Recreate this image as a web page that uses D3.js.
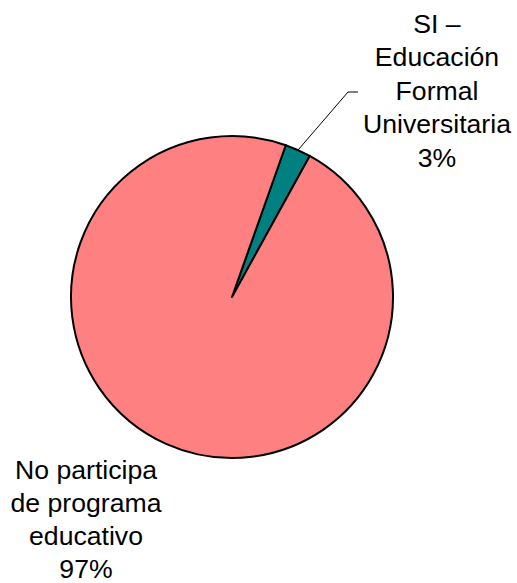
<!DOCTYPE html>
<html><head><meta charset="utf-8">
<script src="https://cdn.jsdelivr.net/npm/d3@7"></script>
<style>body{margin:0;background:#fff}</style>
</head><body>
<svg id="c" width="517" height="583"></svg>
<script>
const categories = ["SI – Educación Formal Universitaria", "No participa de programa educativo"];
const labelLines = [["SI –","Educación","Formal","Universitaria"],["No participa","de programa","educativo"]];
const values = [2.6, 97.4];
const colors = ["#008080", "#FF8080"];

const svg = d3.select("#c");
const cx = 232, cy = 297, R = 161;
const total = d3.sum(values);
const pie = d3.pie().sort(null).value(d => d)
  .startAngle(19.5 * Math.PI / 180).endAngle(19.5 * Math.PI / 180 + 2 * Math.PI);
const arcs = pie(values);
const arc = d3.arc().innerRadius(0).outerRadius(R);
const g = svg.append("g").attr("transform", `translate(${cx},${cy})`);
g.selectAll("path").data(arcs).join("path")
  .attr("d", arc).attr("fill", (d, i) => colors[i])
  .attr("stroke", "#000").attr("stroke-width", 2).attr("stroke-linejoin", "round");

// leader line for small slice
const a0 = arcs[0];
const mid = (a0.startAngle + a0.endAngle) / 2;
const p0 = [cx + R * Math.sin(mid), cy - R * Math.cos(mid)];
svg.append("polyline")
  .attr("points", [p0, [348, 92], [358, 92]].map(p => p.join(",")).join(" "))
  .attr("fill", "none").attr("stroke", "#000").attr("stroke-width", 1);

const pct = values.map(v => Math.round(v / total * 100) + "%");
const labelPos = [{x: 437, y: 33, dy: 33.5}, {x: 86, y: 479, dy: 33}];
labelPos.forEach((p, i) => {
  const lines = labelLines[i].concat([pct[i]]);
  const t = svg.append("text")
    .attr("transform", `translate(${p.x},${p.y}) scale(1.065,1)`)
    .attr("text-anchor", "middle")
    .attr("font-family", "Liberation Sans, Arial, sans-serif")
    .attr("font-size", 25).attr("fill", "#000");
  lines.forEach((l, j) => t.append("tspan").attr("x", 0).attr("y", j * p.dy).text(l));
});
</script>
</body></html>
